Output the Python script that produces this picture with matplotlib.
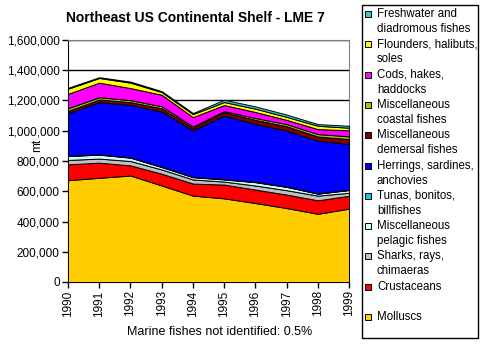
import matplotlib
matplotlib.use("Agg")
import matplotlib.pyplot as plt
from matplotlib.patches import Rectangle

plt.rcParams['font.family'] = ['Liberation Sans', 'DejaVu Sans']

#------------------------------------------------------------------------------
#data (thousand tonnes, per layer, bottom to top)

years = [1990, 1991, 1992, 1993, 1994, 1995, 1996, 1997, 1998, 1999]

molluscs    = [673, 689, 704, 638, 571, 553, 522, 489, 451, 485]
crustaceans = [105, 100, 67, 78, 80, 91, 89, 89, 89, 85]
sharks      = [29, 27, 29, 28, 27, 20, 27, 29, 31, 20]
pelagic     = [26, 26, 22, 16, 15, 14, 22, 22, 13, 18]
tunas       = [2, 2, 2, 2, 2, 3, 2, 2, 2, 2]
herrings    = [281, 345, 347, 365, 307, 419, 383, 369, 349, 302]
demersal    = [15, 18, 18, 22, 16, 22, 27, 30, 27, 33]
coastal     = [18, 15, 13, 13, 10, 8, 12, 14, 16, 18]
cods        = [95, 96, 80, 76, 62, 40, 40, 28, 33, 40]
flounders   = [34, 31, 36, 18, 20, 20, 22, 20, 22, 17]
freshwater  = [6, 5, 7, 6, 7, 15, 15, 15, 11, 13]

series = [molluscs, crustaceans, sharks, pelagic, tunas, herrings,
          demersal, coastal, cods, flounders, freshwater]
colors = ["#FFCC00", "#FF0000", "#C0C0C0", "#CCFFFF", "#00CCFF", "#0000FF",
          "#800000", "#99CC00", "#FF00FF", "#FFFF00", "#33CCCC"]
labels = [["Molluscs"], ["Crustaceans"], ["Sharks, rays,", "chimaeras"],
          ["Miscellaneous", "pelagic fishes"], ["Tunas, bonitos,", "billfishes"],
          ["Herrings, sardines,", "anchovies"], ["Miscellaneous", "demersal fishes"],
          ["Miscellaneous", "coastal fishes"], ["Cods, hakes,", "haddocks"],
          ["Flounders, halibuts,", "soles"], ["Freshwater and", "diadromous fishes"]]

#------------------------------------------------------------------------------
#plot

W, H = 485, 350
fig = plt.figure(figsize=(4.85, 3.5), dpi=100)
ax = fig.add_axes([68/W, 1-282/H, (349-68)/W, (282-40)/H])

vals = [[v*1000 for v in s] for s in series]
ax.stackplot(years, *vals, colors=colors, edgecolor="black", linewidth=0.7, zorder=3)

ax.set_xlim(1990, 1999)
ax.set_ylim(0, 1600000)
ax.set_yticks(range(0, 1600001, 200000))
ax.set_yticklabels(["{:,}".format(v) for v in range(0, 1600001, 200000)], fontsize=8.5)
ax.set_xticks(years)
ax.set_xticklabels([str(y) for y in years], rotation=90, fontsize=8.5)
ax.tick_params(direction="out", length=4, width=1, color="black", pad=2)
ax.grid(axis="y", color="black", linewidth=1, zorder=0)
ax.set_axisbelow(True)

ax.spines["top"].set_color("#808080")
ax.spines["right"].set_color("#808080")
ax.spines["left"].set_color("black")
ax.spines["bottom"].set_color("black")

ax.set_ylabel("mt", fontsize=8.5)
ax.yaxis.set_label_coords(-0.09, 0.566)

fig.text(195/W, 1-18/H, "Northeast US Continental Shelf - LME 7",
         fontsize=10, fontweight="bold", ha="center", va="center")
fig.text(220/W, 1-332/H, "Marine fishes not identified: 0.5%",
         fontsize=9, ha="center", va="center")

#------------------------------------------------------------------------------
#legend box

fig.patches.append(Rectangle((362/W, 1-338/H), (478-362)/W, (338-5)/H,
                             transform=fig.transFigure, facecolor="white",
                             edgecolor="black", linewidth=1))
for i in range(len(series)):
    k = len(series) - 1 - i
    y0 = 14 + 30.3*i
    fig.patches.append(Rectangle((365/W, 1-(y0+3)/H), 6/W, 6/H,
                                 transform=fig.transFigure, facecolor=colors[k],
                                 edgecolor="black", linewidth=0.7))
    for j, line in enumerate(labels[k]):
        fig.text(377/W, 1-(y0+15*j)/H, line, fontsize=8.3, ha="left", va="center")

fig.savefig("out.png", dpi=100)
